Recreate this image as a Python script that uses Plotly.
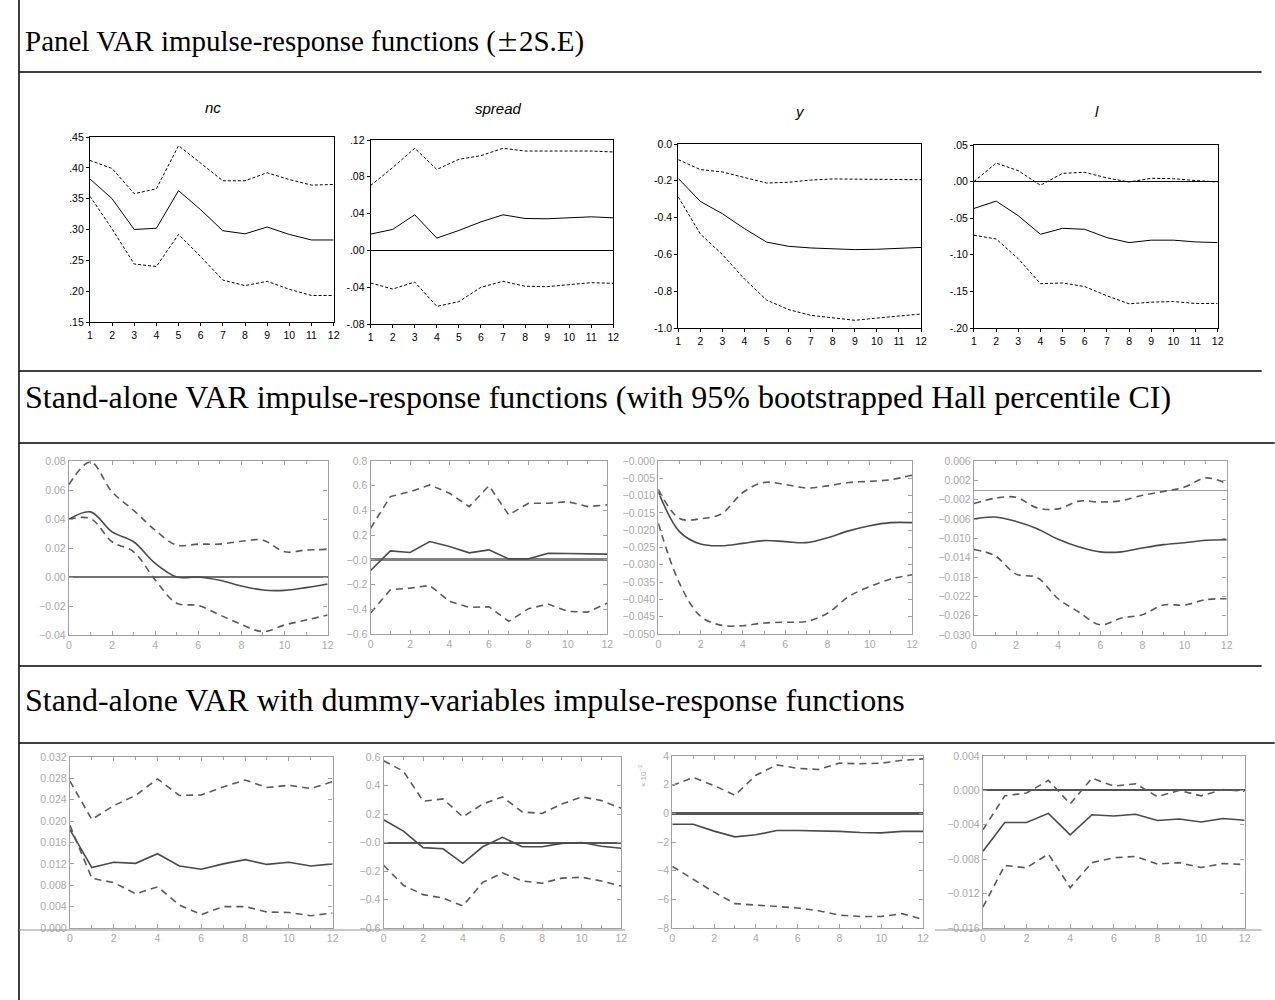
import plotly.graph_objects as go

W, H = 1275, 1000

# ---------------- data ----------------
h_panel = list(range(1, 13))
h_var = list(range(0, 13))

# Panel VAR (±2 S.E.)
nc_irf = [.382, .350, .300, .302, .363, .332, .298, .293, .304, .292, .283, .283]
nc_up = [.412, .399, .358, .366, .436, .408, .379, .379, .392, .381, .372, .373]
nc_lo = [.354, .301, .244, .240, .292, .256, .218, .209, .216, .203, .193, .193]

spread_irf = [.0177, .0228, .0387, .0134, .0217, .031, .0387, .0347, .0344, .0354, .0365, .0354]
spread_up = [.0705, .090, .111, .088, .099, .103, .111, .108, .108, .108, .108, .107]
spread_lo = [-.0354, -.042, -.0344, -.0608, -.0557, -.0401, -.0336, -.039, -.0394, -.0369, -.0351, -.0358]

y_irf = [-.187, -.312, -.379, -.46, -.533, -.556, -.565, -.569, -.574, -.572, -.567, -.562]
y_up = [-.085, -.139, -.152, -.181, -.212, -.208, -.196, -.19, -.192, -.192, -.194, -.194]
y_lo = [-.288, -.489, -.601, -.734, -.848, -.90, -.931, -.946, -.958, -.946, -.937, -.924]

l_irf = [-.0367, -.0267, -.0466, -.072, -.0638, -.0652, -.0765, -.0833, -.080, -.080, -.0824, -.0833]
l_up = [0.0, .0253, .0149, -.005, .0113, .0127, .005, -.0005, .0045, .004, .0014, -.0005]
l_lo = [-.0733, -.0783, -.1054, -.1394, -.1385, -.1434, -.156, -.167, -.1647, -.1638, -.1665, -.1665]

# Stand-alone VAR (95% bootstrapped Hall percentile CI)
sa_nc_irf = [.0398, .0449, .0311, .0243, .0094, 0.0, 0.0, -.0023, -.0062, -.009, -.0092, -.0073, -.0048]
sa_nc_up = [.0637, .0793, .0587, .046, .0323, .022, .0227, .0227, .0247, .0254, .0174, .0186, .019]
sa_nc_lo = [.0398, .0403, .0243, .0174, -.002, -.0181, -.0197, -.0262, -.0327, -.0377, -.0331, -.0297, -.0262]

sa_sp_irf = [-.086, .073, .06, .148, .108, .057, .081, .008, .008, .054, .051, .046, .046]
sa_sp_up = [.256, .512, .552, .606, .539, .431, .60, .364, .458, .458, .471, .431, .445]
sa_sp_lo = [-.43, -.242, -.229, -.207, -.336, -.385, -.379, -.498, -.395, -.358, -.417, -.423, -.35]

sa_y_irf = [-.0089, -.0204, -.024, -.0245, -.0238, -.023, -.0233, -.0236, -.0222, -.0202, -.0187, -.0178, -.0178]
sa_y_up = [-.0082, -.0166, -.0167, -.0152, -.0091, -.0062, -.0068, -.0078, -.0072, -.0062, -.0059, -.0054, -.0041]
sa_y_lo = [-.018, -.0353, -.0449, -.0475, -.0476, -.0468, -.0466, -.0464, -.044, -.0392, -.0363, -.0341, -.0329]

sa_l_irf = [-.0060, -.0056, -.0065, -.008, -.0102, -.0118, -.0128, -.0128, -.012, -.0113, -.0109, -.0104, -.0103]
sa_l_up = [-.0028, -.0017, -.0015, -.0037, -.0039, -.0023, -.0025, -.0022, -.0011, -.0003, .0006, .0025, .0013]
sa_l_lo = [-.0123, -.0136, -.0174, -.0181, -.0225, -.0253, -.0279, -.0265, -.0258, -.0238, -.0238, -.0227, -.0225]

# Stand-alone VAR with dummy variables
du_nc_irf = [.0184, .0113, .0123, .0121, .0139, .0116, .0110, .0120, .0128, .0119, .0123, .0116, .0120]
du_nc_up = [.0275, .0203, .0229, .0248, .0279, .0248, .0249, .0264, .0277, .0263, .0267, .0261, .0274]
du_nc_lo = [.0192, .0093, .0085, .0064, .0077, .0043, .0025, .0040, .0040, .0030, .0029, .0023, .0028]

du_sp_irf = [.16, .08, -.036, -.044, -.146, -.03, .036, -.03, -.03, -.006, 0.0, -.026, -.04]
du_sp_up = [.574, .50, .29, .306, .18, .27, .32, .214, .204, .27, .32, .294, .24]
du_sp_lo = [-.16, -.30, -.366, -.39, -.446, -.28, -.214, -.27, -.286, -.25, -.244, -.27, -.306]

du_y_irf = [-.76, -.76, -1.24, -1.64, -1.5, -1.2, -1.2, -1.22, -1.26, -1.34, -1.36, -1.26, -1.26]   # x 10^-3
du_y_up = [1.94, 2.5, 1.94, 1.26, 2.66, 3.38, 3.14, 3.06, 3.5, 3.46, 3.5, 3.7, 3.8]
du_y_lo = [-3.7, -4.6, -5.5, -6.3, -6.4, -6.5, -6.6, -6.8, -7.1, -7.2, -7.2, -7.0, -7.4]

du_l_irf = [-.00707, -.00373, -.00373, -.00267, -.00517, -.00283, -.00297, -.00277, -.0035, -.00333, -.00367, -.00327, -.00347]
du_l_up = [-.00457, -.00063, -.0003, .00117, -.00157, .00143, .0005, .00077, -.00073, 0.0, -.00063, .0001, -.0001]
du_l_lo = [-.01357, -.00873, -.009, -.0074, -.0113, -.0084, -.00783, -.00767, -.00857, -.0084, -.00897, -.0085, -.00863]

# tick labels
nc_ticks = [.15, .20, .25, .30, .35, .40, .45]
nc_ticktext = [".15", ".20", ".25", ".30", ".35", ".40", ".45"]
spread_ticks = [-.08, -.04, .00, .04, .08, .12]
spread_ticktext = ["-.08", "-.04", ".00", ".04", ".08", ".12"]
y_ticks = [-1.0, -0.8, -0.6, -0.4, -0.2, 0.0]
y_ticktext = ["-1.0", "-0.8", "-0.6", "-0.4", "-0.2", "0.0"]
l_ticks = [-.20, -.15, -.10, -.05, .00, .05]
l_ticktext = ["-.20", "-.15", "-.10", "-.05", ".00", ".05"]

sa_nc_ticks = [-.04, -.02, 0, .02, .04, .06, .08]
sa_nc_ticktext = ["\u22120.04", "\u22120.02", "0.00", "0.02", "0.04", "0.06", "0.08"]
sa_sp_ticks = [-.6, -.4, -.2, 0, .2, .4, .6, .8]
sa_sp_ticktext = ["\u22120.6", "\u22120.4", "\u22120.2", "\u22120.0", "0.2", "0.4", "0.6", "0.8"]
sa_y_ticks = [-.050, -.045, -.040, -.035, -.030, -.025, -.020, -.015, -.010, -.005, 0]
sa_y_ticktext = ["\u22120.050", "\u22120.045", "\u22120.040", "\u22120.035", "\u22120.030", "\u22120.025",
                 "\u22120.020", "\u22120.015", "\u22120.010", "\u22120.005", "\u22120.000"]
sa_l_ticks = [-.030, -.026, -.022, -.018, -.014, -.010, -.006, -.002, .002, .006]
sa_l_ticktext = ["\u22120.030", "\u22120.026", "\u22120.022", "\u22120.018", "\u22120.014", "\u22120.010",
                 "\u22120.006", "\u22120.002", "0.002", "0.006"]

du_nc_ticks = [0, .004, .008, .012, .016, .020, .024, .028, .032]
du_nc_ticktext = ["0.000", "0.004", "0.008", "0.012", "0.016", "0.020", "0.024", "0.028", "0.032"]
du_sp_ticks = [-.6, -.4, -.2, 0, .2, .4, .6]
du_sp_ticktext = ["\u22120.6", "\u22120.4", "\u22120.2", "\u22120.0", "0.2", "0.4", "0.6"]
du_y_ticks = [-8, -6, -4, -2, 0, 2, 4]
du_y_ticktext = ["\u22128", "\u22126", "\u22124", "\u22122", "0", "2", "4"]
du_l_ticks = [-.016, -.012, -.008, -.004, 0, .004]
du_l_ticktext = ["\u22120.016", "\u22120.012", "\u22120.008", "\u22120.004", "0.000", "0.004"]

panel_x_ticks = list(range(1, 13))
var_x_ticks = [0, 2, 4, 6, 8, 10, 12]

section_titles = [
    "Panel VAR impulse-response functions (<span style='font-family:\"Noto Sans CJK SC\";font-size:23px'>\u00b1</span>2S.E)",
    "Stand-alone VAR impulse-response functions (with 95% bootstrapped Hall percentile CI)",
    "Stand-alone VAR with dummy-variables impulse-response functions",
]
panel_titles = ["nc", "spread", "y", "l"]

# ---------------- layout helpers ----------------
fig = go.Figure()
layout = {}


def fx(xpx):
    """reference pixel x -> paper fraction"""
    return ((xpx - 2) / 0.994) / W


def fy(ypx):
    """reference pixel y -> paper fraction (from bottom)"""
    return 1 - ((ypx - 6) / 0.988) / H


def px_dom(left, right, top, bottom):
    return [fx(left), fx(right)], [fy(bottom), fy(top)]


def add_panel(i, x, mid, up, lo, box, yr, tv, tt, style, zero=None, spline=False):
    xd, yd = px_dom(*box)
    xa, ya = f"x{i}", f"y{i}"
    if style == "eviews":
        band = dict(color="black", width=1, dash="3px,2px")
        ml = dict(color="black", width=1)
        axc, axw, tk, tl, tfont = "black", 1, "outside", 3, dict(family="Liberation Sans", size=10.5, color="black")
        xr = [1, 12]
        xtv = panel_x_ticks
        mirror = True
    else:
        band = dict(color="#5a5a5a", width=1.6, dash="7px,5px")
        ml = dict(color="#4a4a4a", width=1.6)
        axc, axw, tk, tl, tfont = "#a0a0a0", 1.4, "inside", 4, dict(family="Liberation Sans", size=10.5, color="#a8a8a8")
        xr = [0, 12]
        xtv = var_x_ticks
        mirror = "ticks"
    shape = "spline" if spline else "linear"
    for series, ln in ((up, band), (lo, band), (mid, ml)):
        fig.add_trace(go.Scatter(x=x, y=series, mode="lines", line=dict(shape=shape, **ln),
                                 xaxis=xa, yaxis=ya, showlegend=False, hoverinfo="skip"))
    xaxis = dict(domain=xd, range=xr, anchor=ya, showgrid=False, zeroline=False,
                 showline=True, linecolor=axc, linewidth=axw, mirror=mirror,
                 ticks=tk, ticklen=tl, tickcolor=axc, tickwidth=1,
                 tickvals=xtv, ticktext=[str(v) for v in xtv], tickfont=tfont, fixedrange=True)
    if style != "eviews":
        xaxis["minor"] = dict(dtick=1, tick0=0, ticks="inside", ticklen=3, tickcolor=axc, showgrid=False)
    yaxis = dict(domain=yd, range=yr, anchor=xa, showgrid=False,
                 showline=True, linecolor=axc, linewidth=axw, mirror=mirror,
                 ticks=tk, ticklen=tl, tickcolor=axc, tickwidth=1,
                 tickvals=tv, ticktext=tt, tickfont=tfont, fixedrange=True)
    if zero:
        yaxis.update(zeroline=True, zerolinecolor=zero[0], zerolinewidth=zero[1])
    else:
        yaxis["zeroline"] = False
    layout["xaxis" if i == 1 else f"xaxis{i}"] = xaxis
    layout["yaxis" if i == 1 else f"yaxis{i}"] = yaxis


# row 1 (EViews)
add_panel(1, h_panel, nc_irf, nc_up, nc_lo, (89, 333, 137, 322), [.15, .45], nc_ticks, nc_ticktext, "eviews")
add_panel(2, h_panel, spread_irf, spread_up, spread_lo, (370, 613, 140, 324), [-.08, .12], spread_ticks, spread_ticktext, "eviews", zero=("black", 1))
add_panel(3, h_panel, y_irf, y_up, y_lo, (678, 921, 144, 328), [-1.0, 0.0], y_ticks, y_ticktext, "eviews")
add_panel(4, h_panel, l_irf, l_up, l_lo, (974, 1218, 145, 328), [-.20, .05], l_ticks, l_ticktext, "eviews", zero=("black", 1))

# row 2
add_panel(5, h_var, sa_nc_irf, sa_nc_up, sa_nc_lo, (68, 327, 461, 635), [-.04, .08], sa_nc_ticks, sa_nc_ticktext, "gauss", zero=("#707070", 1.5), spline=True)
add_panel(6, h_var, sa_sp_irf, sa_sp_up, sa_sp_lo, (370, 607, 461, 634), [-.6, .8], sa_sp_ticks, sa_sp_ticktext, "gauss", zero=("#808080", 2.5))
add_panel(7, h_var, sa_y_irf, sa_y_up, sa_y_lo, (658, 912, 461, 634), [-.050, 0], sa_y_ticks, sa_y_ticktext, "gauss", spline=True)
add_panel(8, h_var, sa_l_irf, sa_l_up, sa_l_lo, (974, 1227, 461, 635), [-.030, .006], sa_l_ticks, sa_l_ticktext, "gauss", zero=("#a0a0a0", 1), spline=True)

# row 3
add_panel(9, h_var, du_nc_irf, du_nc_up, du_nc_lo, (69, 332, 757, 928), [0, .032], du_nc_ticks, du_nc_ticktext, "gauss")
add_panel(10, h_var, du_sp_irf, du_sp_up, du_sp_lo, (383, 621, 757, 928), [-.6, .6], du_sp_ticks, du_sp_ticktext, "gauss", zero=("#555555", 1.5))
add_panel(11, h_var, du_y_irf, du_y_up, du_y_lo, (672, 923, 756, 928), [-8, 4], du_y_ticks, du_y_ticktext, "gauss", zero=("#555555", 2.5))
add_panel(12, h_var, du_l_irf, du_l_up, du_l_lo, (983, 1245, 756, 928), [-.016, .004], du_l_ticks, du_l_ticktext, "gauss", zero=("#555555", 1.5))

annotations = []
# section headings
for txt, ypx, fs in zip(section_titles, (41, 397, 700), (29, 32, 32)):
    annotations.append(dict(text=txt, x=fx(22), y=fy(ypx), xref="paper", yref="paper",
                            xanchor="left", yanchor="middle", showarrow=False,
                            font=dict(family="Liberation Serif", size=fs, color="black")))
# panel titles (row 1)
for txt, xpx, ypx in zip(panel_titles, (212, 498, 800, 1097), (107, 108, 112, 112)):
    annotations.append(dict(text=f"<i>{txt}</i>", x=fx(xpx), y=fy(ypx), xref="paper", yref="paper",
                            xanchor="center", yanchor="middle", showarrow=False,
                            font=dict(family="Liberation Sans", size=15, color="black")))
# exponent label
annotations.append(dict(text="\u00d7 10<sup>\u22123</sup>", x=fx(642), y=fy(776), xref="paper", yref="paper",
                        textangle=-90, showarrow=False, xanchor="center", yanchor="middle",
                        font=dict(family="Liberation Sans", size=8, color="#aaaaaa")))

shapes = []


def hline(ypx, x0, x1, color="black", width=1.5):
    shapes.append(dict(type="line", xref="paper", yref="paper", x0=fx(x0), x1=fx(x1),
                       y0=fy(ypx), y1=fy(ypx), line=dict(color=color, width=width)))


def vline(xpx, y0, y1, color="black", width=1.5):
    shapes.append(dict(type="line", xref="paper", yref="paper", x0=fx(xpx), x1=fx(xpx),
                       y0=fy(y0), y1=fy(y1), line=dict(color=color, width=width)))


vline(18, 0, 1000)
hline(72, 18, 1262)
hline(371, 18, 1262)
hline(443, 18, 1275)
hline(666, 18, 1262)
hline(743, 18, 1275)
hline(930, 18, 625, color="#909090", width=1)
hline(930, 935, 1262, color="#909090", width=1)

layout.update(width=W, height=H, margin=dict(l=0, r=0, t=0, b=0),
              paper_bgcolor="white", plot_bgcolor="white",
              annotations=annotations, shapes=shapes, showlegend=False)
fig.update_layout(**layout)
fig.write_html("out.html", config={"displayModeBar": False},
               post_script="document.body.style.margin='0';document.body.style.overflow='hidden';")
